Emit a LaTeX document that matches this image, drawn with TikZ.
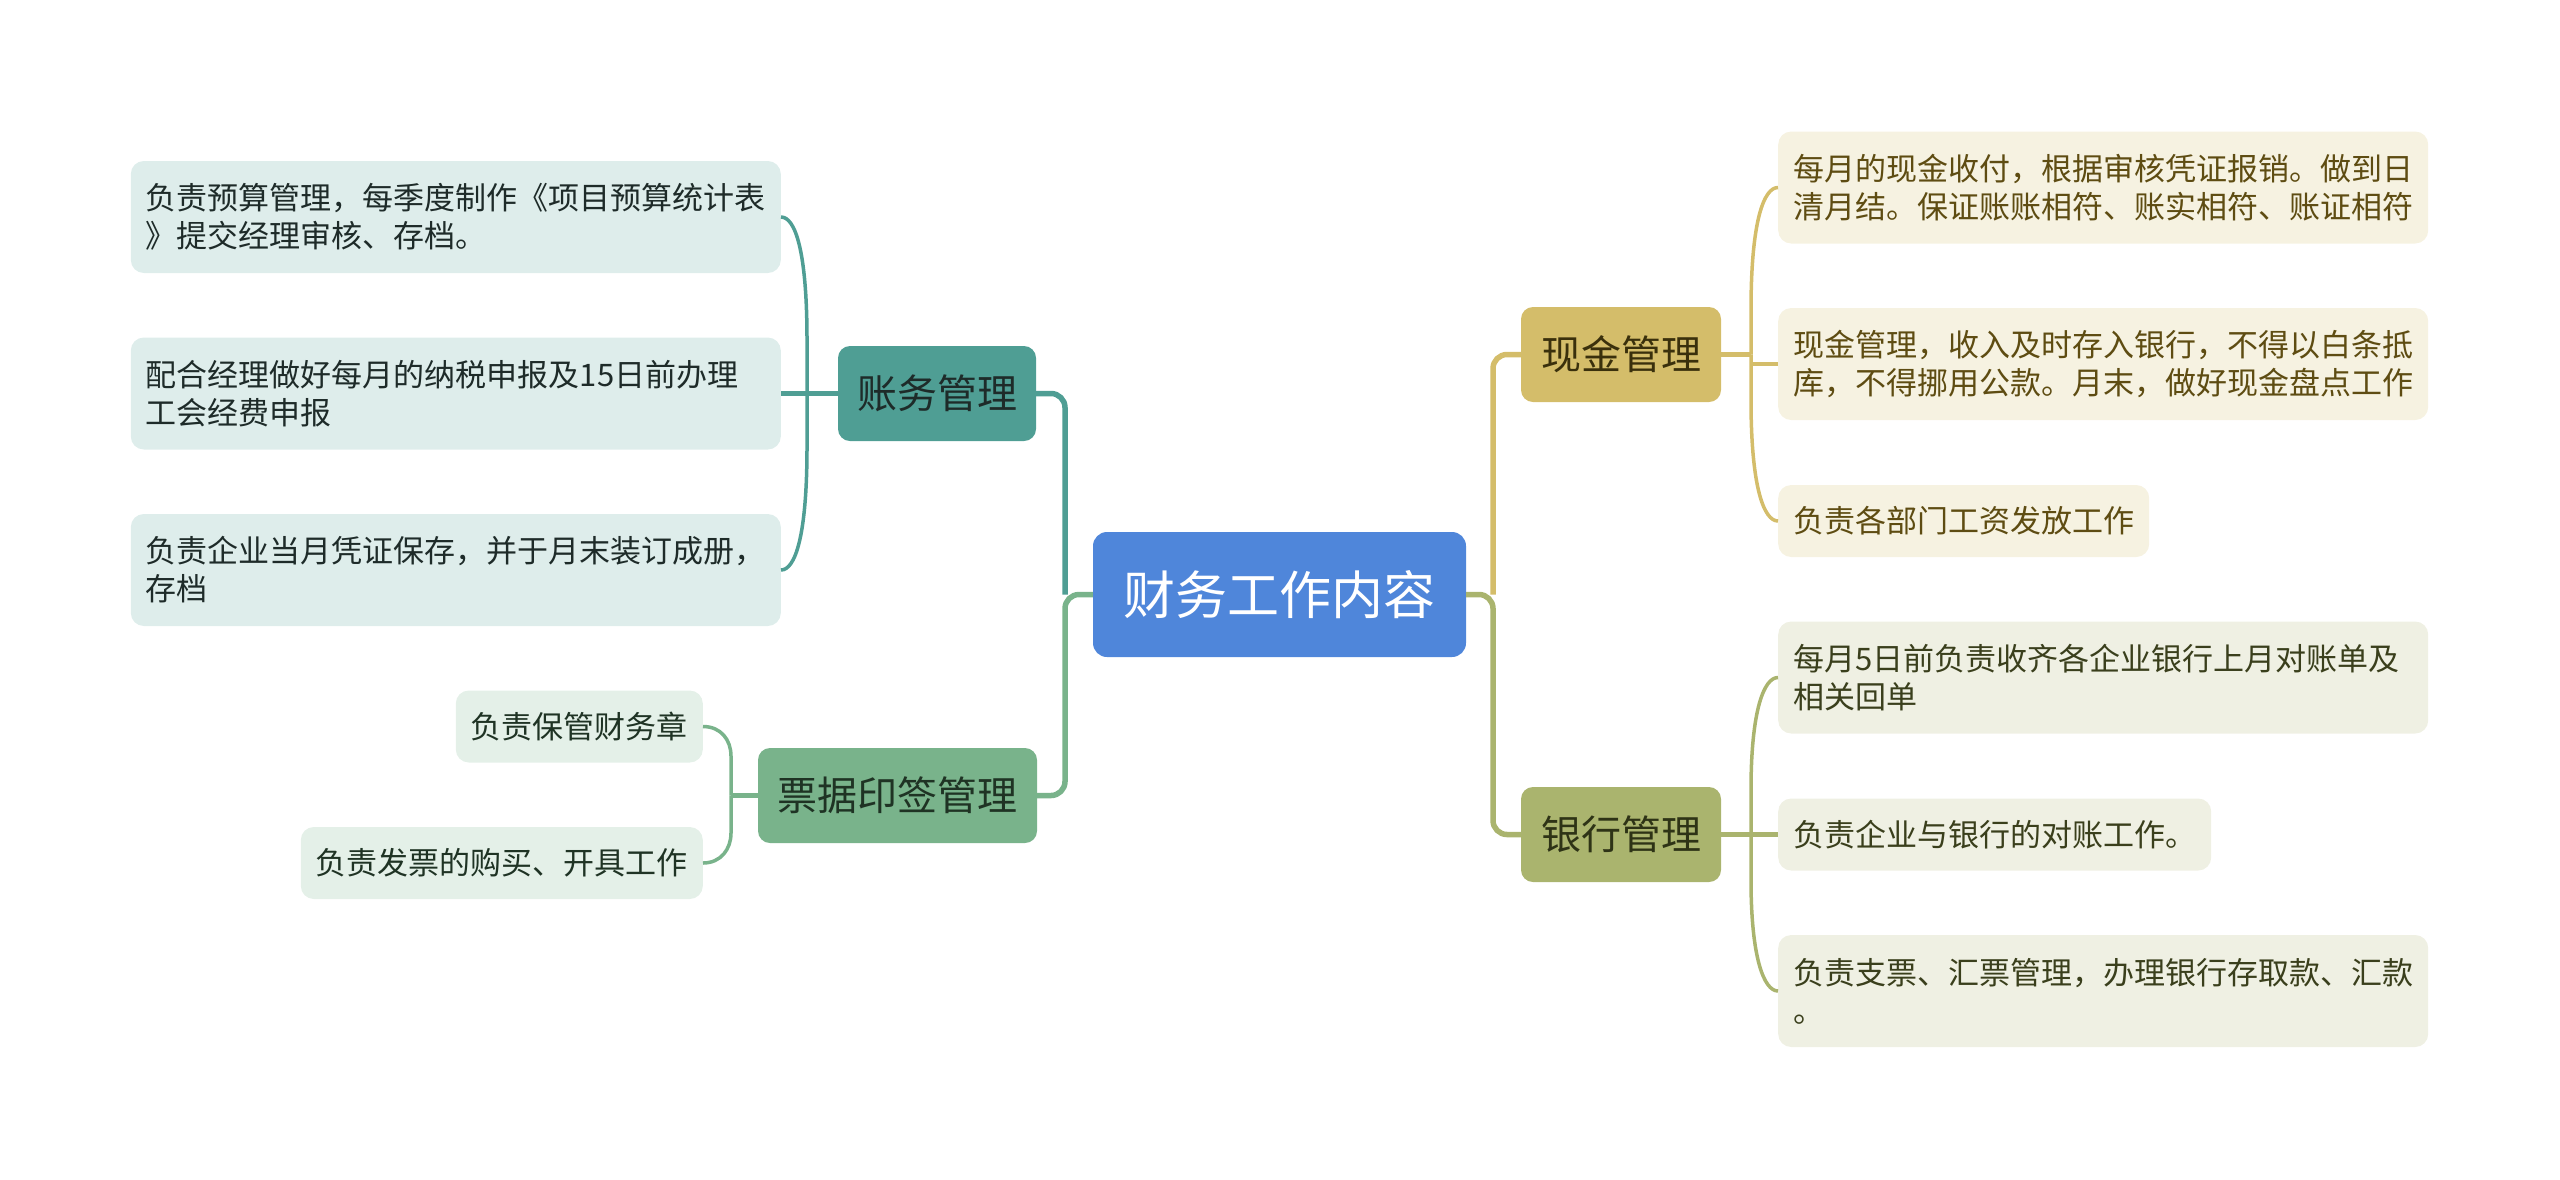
\documentclass[tikz,border=0pt]{standalone}
\usepackage{fontspec}
\newfontfamily\cjk{Noto Sans CJK SC}
\definecolor{rootfill}{HTML}{4F86DA}
\definecolor{aFill}{HTML}{4F9E94}
\definecolor{bFill}{HTML}{79B38B}
\definecolor{cFill}{HTML}{D4BD6A}
\definecolor{dFill}{HTML}{AAB46E}
\definecolor{aLeaf}{HTML}{DEEDEB}
\definecolor{bLeaf}{HTML}{E4F0E8}
\definecolor{cLeaf}{HTML}{F6F2E1}
\definecolor{dLeaf}{HTML}{EFF0E3}
\definecolor{aText}{HTML}{1E2B29}
\definecolor{bText}{HTML}{1F3324}
\definecolor{cText}{HTML}{5E4C12}
\definecolor{dText}{HTML}{3A3F1C}
\definecolor{cBText}{HTML}{3A300C}
\definecolor{dBText}{HTML}{2E3316}
\begin{document}
\begin{tikzpicture}[x=1pt,y=-1pt,
  rootbox/.style={fill=rootfill, text=white, rounded corners=14pt, minimum width=373pt, minimum height=125pt, inner sep=0pt, font=\cjk\fontsize{52}{60}\selectfont},
  branchbox/.style={rounded corners=12pt, minimum height=95pt, inner xsep=19pt, inner ysep=0pt, font=\cjk\fontsize{40}{48}\selectfont},
  leafbox/.style={rounded corners=13pt, inner xsep=15pt, inner ysep=0pt, font=\cjk\fontsize{31}{38}\selectfont},
  multileaf/.style={leafbox, text width=620pt, align=left, minimum height=112pt},
  singleleaf/.style={leafbox, minimum height=72pt},
  mainconn/.style={line width=5.5pt, rounded corners=14pt},
  stubconn/.style={line width=4.5pt},
  leafconn/.style={line width=3.5pt}
]
\useasboundingbox (0,0) rectangle (2560,1179);

% root
\node[rootbox] (root) at (1279.5,594.5) {财务工作内容};

% branches
\node[branchbox, fill=aFill, text=aText, minimum width=198pt] (A) at (937,393.5) {账务管理};
\node[branchbox, fill=bFill, text=bText, minimum width=279pt] (B) at (897.5,795.5) {票据印签管理};
\node[branchbox, fill=cFill, text=cBText, minimum width=200pt] (C) at (1621,354.5) {现金管理};
\node[branchbox, fill=dFill, text=dBText, minimum width=200pt] (D) at (1621,834.5) {银行管理};

% leaves A
\node[multileaf, fill=aLeaf, text=aText, anchor=east] (A1) at (781,217) {负责预算管理，每季度制作《项目预算统计表\\》提交经理审核、存档。};
\node[multileaf, fill=aLeaf, text=aText, anchor=east] (A2) at (781,393.5) {配合经理做好每月的纳税申报及15日前办理\\工会经费申报};
\node[multileaf, fill=aLeaf, text=aText, anchor=east] (A3) at (781,570) {负责企业当月凭证保存，并于月末装订成册，\\存档};

% leaves B
\node[singleleaf, fill=bLeaf, text=bText, anchor=east] (B1) at (703,726.5) {负责保管财务章};
\node[singleleaf, fill=bLeaf, text=bText, anchor=east] (B2) at (703,863) {负责发票的购买、开具工作};

% leaves C
\node[multileaf, fill=cLeaf, text=cText, anchor=west] (C1) at (1778,187.5) {每月的现金收付，根据审核凭证报销。做到日\\清月结。保证账账相符、账实相符、账证相符};
\node[multileaf, fill=cLeaf, text=cText, anchor=west] (C2) at (1778,364) {现金管理，收入及时存入银行，不得以白条抵\\库，不得挪用公款。月末，做好现金盘点工作};
\node[singleleaf, fill=cLeaf, text=cText, anchor=west] (C3) at (1778,521) {负责各部门工资发放工作};

% leaves D
\node[multileaf, fill=dLeaf, text=dText, anchor=west] (D1) at (1778,677.5) {每月5日前负责收齐各企业银行上月对账单及\\相关回单};
\node[singleleaf, fill=dLeaf, text=dText, anchor=west] (D2) at (1778,834.5) {负责企业与银行的对账工作。};
\node[multileaf, fill=dLeaf, text=dText, anchor=west] (D3) at (1778,991) {负责支票、汇票管理，办理银行存取款、汇款\\。};

% spine coordinates
\coordinate (sL) at (1065,594.5);
\coordinate (sR) at (1493,594.5);
\coordinate (sA) at (807,393.5);
\coordinate (sB) at (731,795.5);
\coordinate (sC) at (1751,354.5);
\coordinate (sD) at (1751,834.5);

% root connectors
\draw[mainconn, draw=aFill] (A.east) -| (sL);
\draw[mainconn, draw=bFill] (root.west) -- (sL) |- (B.east);
\draw[mainconn, draw=cFill] (C.west) -| (sR);
\draw[mainconn, draw=dFill] (root.east) -- (sR) |- (D.west);

% leaf connectors: A
\draw[stubconn, draw=aFill] (A.west) -- (A2.east);
\draw[leafconn, draw=aFill] (A1.east) .. controls +(14,0) and (807,250) .. (807,340) -- (sA);
\draw[leafconn, draw=aFill] (A3.east) .. controls +(14,0) and (807,537) .. (807,447) -- (sA);
% B
\draw[stubconn, draw=bFill] (B.west) -- (sB);
\draw[leafconn, draw=bFill] (B1.east) .. controls +(18,0) and (731,740) .. (731,756) -- (sB);
\draw[leafconn, draw=bFill] (B2.east) .. controls +(18,0) and (731,849) .. (731,833) -- (sB);
% C
\draw[stubconn, draw=cFill] (C.east) -- (sC);
\draw[leafconn, draw=cFill] (C1.west) .. controls +(-14,0) and (1751,220) .. (1751,310) -- (sC);
\draw[leafconn, draw=cFill] (C3.west) .. controls +(-14,0) and (1751,488) .. (1751,400) -- (sC);
\draw[stubconn, draw=cFill] (C2.west) -- (C2.west -| sC);
% D
\draw[stubconn, draw=dFill] (D.east) -- (D2.west);
\draw[leafconn, draw=dFill] (D1.west) .. controls +(-14,0) and (1751,710) .. (1751,790) -- (sD);
\draw[leafconn, draw=dFill] (D3.west) .. controls +(-14,0) and (1751,958) .. (1751,880) -- (sD);
\end{tikzpicture}
\end{document}
